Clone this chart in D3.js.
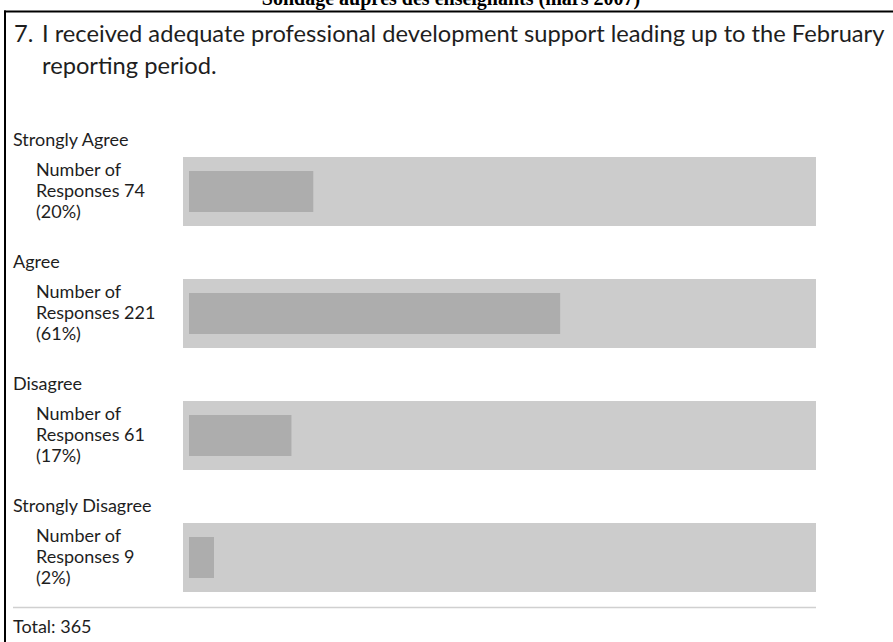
<!DOCTYPE html>
<html>
<head>
<meta charset="utf-8">
<script src="https://cdn.jsdelivr.net/npm/d3@7"></script>
<style>
  html, body { margin: 0; padding: 0; background: #fff; }
  svg { display: block; }
</style>
</head>
<body>
<svg id="chart" width="893" height="642"></svg>
<script>
// ---- data ----
const pageTitle = "Sondage auprès des enseignants (mars 2007)";
const questionNumber = "7.";
const questionLines = [
  "I received adequate professional development support leading up to the February",
  "reporting period."
];
const categories = ["Strongly Agree", "Agree", "Disagree", "Strongly Disagree"];
const responses = [74, 221, 61, 9];
const percents = [20, 61, 17, 2];
const total = 365;

// ---- drawing ----
const svg = d3.select("#chart");
const W = 893, H = 642;
const textFont = "Lato, 'Open Sans', sans-serif";
const textColor = "#1e1e1e";

// fit a font size so that a sample string reaches a target width
function fitSize(sample, targetWidth, base) {
  const t = svg.append("text").style("font-family", textFont).style("font-size", base + "px").text(sample);
  const w = t.node().getComputedTextLength();
  t.remove();
  return w > 0 ? base * targetWidth / w : base;
}
const qSize = fitSize(questionLines[0], 843, 20);
const lSize = fitSize("Responses 74", 109, 15);

// cut-off page title
svg.append("text")
  .attr("x", 451).attr("y", 5)
  .attr("text-anchor", "middle")
  .style("font-family", "'Liberation Serif', 'DejaVu Serif', serif")
  .style("font-weight", "bold")
  .style("font-size", "20px")
  .style("fill", "#000")
  .text(pageTitle);

// frame
svg.append("line").attr("x1", 4).attr("x2", W).attr("y1", 11.5).attr("y2", 11.5)
  .attr("stroke", "#000").attr("stroke-width", 2);
svg.append("line").attr("x1", 5).attr("x2", 5).attr("y1", 10.5).attr("y2", H)
  .attr("stroke", "#000").attr("stroke-width", 2);

// question
svg.append("text")
  .attr("x", 14).attr("y", 42)
  .style("font-family", textFont).style("font-size", qSize + "px").style("fill", textColor)
  .text(questionNumber);
svg.append("g").selectAll("text").data(questionLines).join("text")
  .attr("x", 42).attr("y", (d, i) => 42 + i * 32)
  .style("font-family", textFont).style("font-size", qSize + "px").style("fill", textColor)
  .text(d => d);

// scales
const rows = categories.map((c, i) => ({ cat: c, n: responses[i], pct: percents[i] }));
const y = d3.scaleBand().domain(categories).range([127, 127 + categories.length * 122]).padding(0);
const x = d3.scaleLinear().domain([0, total]).range([0, 613]);

const bgX0 = 183, bgX1 = 816, barX0 = 189;

const g = svg.append("g").selectAll("g").data(rows).join("g")
  .attr("transform", d => `translate(0,${y(d.cat)})`);

g.append("text")
  .attr("x", 13).attr("y", 19)
  .style("font-family", textFont).style("font-size", lSize + "px").style("fill", textColor)
  .text(d => d.cat);

g.append("text")
  .attr("x", 36)
  .style("font-family", textFont).style("font-size", lSize + "px").style("fill", textColor)
  .selectAll("tspan")
  .data(d => ["Number of", `Responses ${d.n}`, `(${d.pct}%)`])
  .join("tspan")
  .attr("x", 36).attr("y", (d, i) => 49 + i * 21)
  .text(d => d);

g.append("rect")
  .attr("x", bgX0).attr("y", 30)
  .attr("width", bgX1 - bgX0).attr("height", 69)
  .attr("fill", "#cccccc");

g.append("rect")
  .attr("x", barX0).attr("y", 44)
  .attr("width", d => Math.max(x(d.n), 25)).attr("height", 41)
  .attr("fill", "#adadad");

// separator and total
svg.append("line")
  .attr("x1", 13).attr("x2", bgX1).attr("y1", 607.5).attr("y2", 607.5)
  .attr("stroke", "#d0d0d0").attr("stroke-width", 1.5);

svg.append("text")
  .attr("x", 13).attr("y", 633)
  .style("font-family", textFont).style("font-size", lSize + "px").style("fill", textColor)
  .text(`Total: ${total}`);
</script>
</body>
</html>
